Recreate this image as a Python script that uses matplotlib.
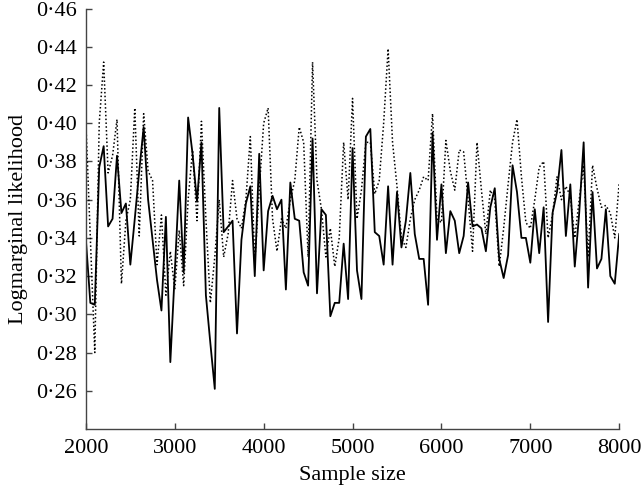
import matplotlib
matplotlib.use('Agg')
import matplotlib.pyplot as plt
from matplotlib.ticker import FuncFormatter

# sample sizes 2000..8000 in steps of 50
sample_size = list(range(2000, 8001, 50))

solid_values = [
    0.339, 0.306, 0.305, 0.377, 0.388, 0.346, 0.350, 0.383, 0.353, 0.358,
    0.326, 0.350, 0.375, 0.398, 0.360, 0.339, 0.318, 0.302, 0.351, 0.275,
    0.322, 0.370, 0.322, 0.403, 0.384, 0.359, 0.390, 0.310, 0.285, 0.261,
    0.408, 0.343, 0.346, 0.349, 0.290, 0.339, 0.358, 0.367, 0.320, 0.384,
    0.323, 0.354, 0.362, 0.355, 0.360, 0.313, 0.369, 0.350, 0.349, 0.322,
    0.315, 0.392, 0.311, 0.355, 0.352, 0.299, 0.306, 0.306, 0.337, 0.308,
    0.387, 0.323, 0.308, 0.393, 0.397, 0.343, 0.341, 0.326, 0.367, 0.326,
    0.364, 0.335, 0.349, 0.374, 0.342, 0.329, 0.329, 0.305, 0.395, 0.339,
    0.368, 0.332, 0.354, 0.349, 0.332, 0.341, 0.369, 0.346, 0.347, 0.345,
    0.333, 0.356, 0.366, 0.329, 0.319, 0.331, 0.378, 0.364, 0.340, 0.340,
    0.327, 0.355, 0.332, 0.356, 0.296, 0.353, 0.364, 0.386, 0.341, 0.368,
    0.325, 0.353, 0.390, 0.314, 0.364, 0.324, 0.329, 0.355, 0.320, 0.316,
    0.342,
]

dotted_values = [
    0.400, 0.340, 0.280, 0.400, 0.432, 0.374, 0.383, 0.402, 0.316, 0.349,
    0.360, 0.408, 0.341, 0.405, 0.375, 0.370, 0.326, 0.352, 0.310, 0.333,
    0.313, 0.344, 0.315, 0.360, 0.386, 0.349, 0.401, 0.350, 0.306, 0.330,
    0.360, 0.330, 0.342, 0.370, 0.350, 0.345, 0.360, 0.393, 0.327, 0.365,
    0.400, 0.408, 0.350, 0.333, 0.350, 0.345, 0.360, 0.370, 0.398, 0.390,
    0.330, 0.432, 0.370, 0.355, 0.330, 0.345, 0.325, 0.340, 0.390, 0.360,
    0.413, 0.350, 0.365, 0.390, 0.390, 0.363, 0.370, 0.400, 0.439, 0.390,
    0.367, 0.340, 0.335, 0.350, 0.360, 0.365, 0.372, 0.370, 0.405, 0.350,
    0.348, 0.391, 0.375, 0.365, 0.386, 0.385, 0.360, 0.333, 0.390, 0.365,
    0.342, 0.365, 0.360, 0.325, 0.345, 0.368, 0.390, 0.402, 0.372, 0.348,
    0.345, 0.360, 0.377, 0.380, 0.340, 0.352, 0.372, 0.360, 0.367, 0.362,
    0.340, 0.360, 0.378, 0.330, 0.378, 0.366, 0.356, 0.357, 0.353, 0.340,
    0.369,
]

y_ticks = [0.26, 0.28, 0.30, 0.32, 0.34, 0.36, 0.38, 0.40, 0.42, 0.44, 0.46]
x_ticks = [2000, 3000, 4000, 5000, 6000, 7000, 8000]

plt.rcParams['font.family'] = ['Liberation Serif', 'DejaVu Serif']

fig = plt.figure(figsize=(6.41, 4.90), dpi=100)
ax = fig.add_axes([0.134, 0.1245, 0.832, 0.858])

ax.plot(sample_size, dotted_values, color='black', linestyle=(0, (1, 1.5)), linewidth=1.1)
ax.plot(sample_size, solid_values, color='black', linewidth=1.3)

ax.set_xlim(2000, 8000)
ax.set_ylim(0.24, 0.46)
ax.set_xticks(x_ticks)
ax.set_yticks(y_ticks)
ax.yaxis.set_major_formatter(FuncFormatter(lambda v, p: f'{v:.2f}'.replace('.', '\u00b7')))

for side in ['top', 'right']:
    ax.spines[side].set_visible(False)
for side in ['left', 'bottom']:
    ax.spines[side].set_color('#444444')
    ax.spines[side].set_linewidth(1.0)

ax.tick_params(direction='in', length=4, width=1, color='#444444', labelsize=16)
ax.tick_params(axis='y', pad=6.5)
ax.tick_params(axis='x', pad=7)

ax.set_xlabel('Sample size', fontsize=16, labelpad=6)
ax.set_ylabel('Logmarginal likelihood', fontsize=16, labelpad=6)

fig.savefig('out.png', dpi=100)
